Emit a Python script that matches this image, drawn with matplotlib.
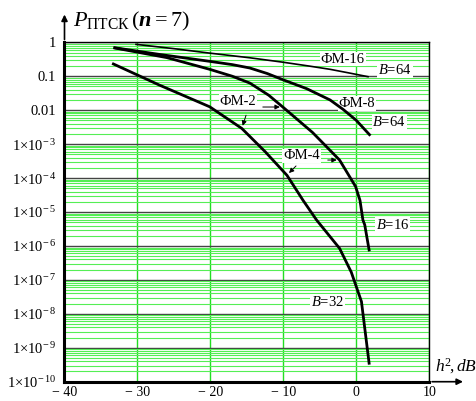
import matplotlib.pyplot as plt
from matplotlib.ticker import LogLocator, NullFormatter

plt.rcParams['font.family'] = ['Liberation Serif', 'DejaVu Serif']
plt.rcParams['mathtext.fontset'] = 'custom'
plt.rcParams['mathtext.rm'] = 'Liberation Serif'
plt.rcParams['mathtext.it'] = 'Liberation Serif:italic'
plt.rcParams['mathtext.bf'] = 'Liberation Serif:bold:italic'

# ФМ-16, B=64
fm16_h = [-30.2, -25.0, -20.1, -14.6, -10.1, -6.5, -3.6, -1.0, 1.6]
fm16_p = [0.87, 0.65, 0.48, 0.35, 0.26, 0.20, 0.16, 0.125, 0.097]
# ФМ-8, B=64
fm8_h = [-33.1, -27.0, -20.1, -17.0, -14.6, -12.2, -10.0, -6.8, -3.6, -1.8, 0.0, 1.8]
fm8_p = [0.69, 0.44, 0.275, 0.22, 0.175, 0.12, 0.078, 0.043, 0.020, 0.0105, 0.005, 0.0019]
# B=16
b16_h = [-33.1, -26.0, -20.1, -17.0, -14.6, -12.0, -10.0, -6.0, -2.3, -0.1, 0.5, 0.9, 1.15, 1.75]
b16_p = [0.68, 0.355, 0.16, 0.10, 0.063, 0.0275, 0.012, 2.2e-3, 3.4e-4, 5.6e-5, 2.2e-5,
         5.8e-6, 4.2e-6, 7.6e-7]
# B=32
b32_h = [-33.3, -27.0, -20.1, -15.7, -12.5, -9.5, -7.3, -5.45, -2.3, -0.7, 0.7, 1.75]
b32_p = [0.23, 0.055, 0.0126, 2.9e-3, 6.0e-4, 1.2e-4, 2.2e-5, 5.8e-6, 8.5e-7, 1.7e-7,
         2.3e-8, 3.5e-10]

x_ticks = [-40, -30, -20, -10, 0, 10]
x_labels = ['\u2212 40', '\u2212 30', '\u2212 20', '\u2212 10', '0', '10']
y_ticks = [10.0 ** -k for k in range(0, 11)]
y_labels = ['1', '0.1', '0.01'] + [r'$1{\times}10^{-\,%d}$' % k for k in range(3, 11)]

fig = plt.figure(figsize=(4.76, 4.01), dpi=100)
ax = fig.add_axes([0.1355, 0.0481, 0.7664, 0.8464])
ax.set_yscale('log')
ax.set_xlim(-40, 10)
ax.set_ylim(1e-10, 1)

ax.set_xticks(x_ticks)
ax.set_xticklabels(x_labels, fontsize=10)
ax.set_yticks(y_ticks)
ax.set_yticklabels(y_labels, fontsize=10.5)
ax.yaxis.set_minor_locator(LogLocator(base=10, subs=range(2, 10), numticks=30))
ax.yaxis.set_minor_formatter(NullFormatter())
ax.tick_params(which='both', length=0)
ax.tick_params(axis='y', pad=6)
ax.tick_params(axis='x', pad=3)

ax.grid(which='minor', axis='y', color='#55ee55', lw=0.8)
ax.grid(which='major', axis='y', color='#444444', lw=1.0)
ax.grid(which='major', axis='x', color='#22dd22', lw=1.0)
ax.set_axisbelow(True)

for s in ['left', 'bottom']:
    ax.spines[s].set_linewidth(2.2)
for s in ['top', 'right']:
    ax.spines[s].set_linewidth(1.0)

ax.plot(fm16_h, fm16_p, color='black', lw=1.2, zorder=4)
ax.plot(fm8_h, fm8_p, color='black', lw=2.0, zorder=4)
ax.plot(b16_h, b16_p, color='black', lw=2.0, zorder=4)
ax.plot(b32_h, b32_p, color='black', lw=2.0, zorder=4)

box = dict(facecolor='white', edgecolor='none', pad=0.6)
kw = dict(fontsize=10.5, ha='center', va='center', bbox=box, zorder=3)
ax.text(-1.85, 0.32, 'ФМ-16', **kw)
ax.text(5.3, 0.15, '$B$=64', **kw)
ax.text(0.07, 0.016, 'ФМ-8', **kw)
ax.text(4.5, 4.4e-3, '$B$=64', **kw)
ax.text(-16.2, 0.0178, 'ФМ-2', **kw)
ax.text(-7.5, 4.5e-4, 'ФМ-4', **kw)
ax.text(5.0, 4.2e-6, '$B$=16', **kw)
ax.text(-4.0, 2.2e-8, '$B$=32', **kw)

arr = dict(arrowstyle='-|>', color='black', lw=0.7, mutation_scale=7)
ax.annotate('', xy=(-10.1, 0.0124), xytext=(-13.2, 0.0124), arrowprops=arr)
ax.annotate('', xy=(-15.7, 2.9e-3), xytext=(-15.0, 8.5e-3), arrowprops=arr)
ax.annotate('', xy=(-2.3, 3.4e-4), xytext=(-4.3, 3.4e-4), arrowprops=arr)
ax.annotate('', xy=(-9.5, 1.23e-4), xytext=(-8.0, 2.6e-4), arrowprops=arr)

# стрелки осей
axarr = dict(arrowstyle='-|>', color='black', lw=1.2, mutation_scale=9)
ax.annotate('', xy=(0, 1.09), xytext=(0, 1.0), xycoords='axes fraction',
            arrowprops=axarr, annotation_clip=False)
ax.annotate('', xy=(1.1, 0), xytext=(1.0, 0), xycoords='axes fraction',
            arrowprops=axarr, annotation_clip=False)

fig.text(73 / 476, 1 - 33 / 401, r'$P_{\mathrm{ПТСК}}\,(\mathbf{n} = 7)$', fontsize=16,
         ha='left', va='bottom')
fig.text(435 / 476, 1 - 376 / 401, r'$h^{2}\!,dB$', fontsize=12.5, ha='left', va='bottom')

fig.savefig('out.png', dpi=100)
